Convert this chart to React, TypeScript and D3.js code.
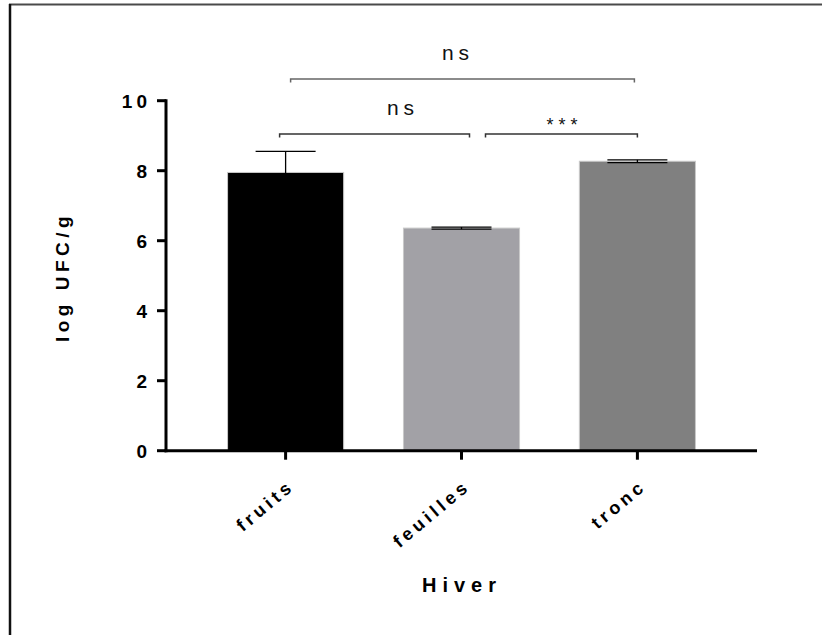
import React from "react";
import * as d3 from "d3";

// Winter counts per plant part (mean log CFU/g with SEM)
const categories: string[] = ["fruits", "feuilles", "tronc"];
const means: number[] = [7.95, 6.36, 8.27];
const sems: number[] = [0.6, 0.03, 0.04];
const barColors: string[] = ["#000000", "#a2a1a6", "#808080"];
const yTicks: number[] = [0, 2, 4, 6, 8, 10];

// Significance comparisons: [from category, to category, label, level]
const comparisons: [string, string, string, number][] = [
  ["fruits", "tronc", "ns", 0],
  ["fruits", "feuilles", "ns", 1],
  ["feuilles", "tronc", "***", 1],
];

const W = 822;
const H = 635;
const FONT = "'Liberation Sans', Arial, sans-serif";

export default function App() {
  const x = d3
    .scaleBand<string>()
    .domain(categories)
    .range([166, 757])
    .paddingInner(0.34)
    .paddingOuter(0.35);
  const y = d3.scaleLinear().domain([0, 10]).range([450.7, 100.7]);
  const cx = (c: string) => (x(c) as number) + x.bandwidth() / 2;
  const capHalf = 30;

  const bracketY = [79, 134];

  return (
    <svg
      width={W}
      height={H}
      style={{ position: "absolute", left: 0, top: 0, background: "#fff" }}
      fontFamily={FONT}
    >
      {/* frame */}
      <line x1={9} x2={W} y1={4.5} y2={4.5} stroke="#4a4a4a" strokeWidth={2} />
      <line x1={10} x2={10} y1={4} y2={H} stroke="#111" strokeWidth={2.5} />

      {/* bars */}
      {categories.map((c, i) => (
        <rect
          key={c}
          x={x(c)}
          y={y(means[i])}
          width={x.bandwidth()}
          height={y(0) - y(means[i])}
          fill={barColors[i]}
          stroke="#c9c9c9"
          strokeWidth={1}
        />
      ))}

      {/* error bars */}
      {categories.map((c, i) => {
        const hi = y(means[i] + sems[i]);
        const lo = y(means[i] - sems[i]);
        return (
          <g key={c} stroke="#000" strokeWidth={1.3}>
            <line x1={cx(c)} x2={cx(c)} y1={hi} y2={lo} />
            <line x1={cx(c) - capHalf} x2={cx(c) + capHalf} y1={hi} y2={hi} />
            <line x1={cx(c) - capHalf} x2={cx(c) + capHalf} y1={lo} y2={lo} />
          </g>
        );
      })}

      {/* y axis */}
      <line x1={166} x2={166} y1={y(10) - 1.5} y2={y(0) + 1.5} stroke="#000" strokeWidth={3} />
      {yTicks.map((t) => (
        <g key={t}>
          <line x1={157} x2={166} y1={y(t)} y2={y(t)} stroke="#000" strokeWidth={3} />
          <text
            x={151}
            y={y(t)}
            dy="0.36em"
            textAnchor="end"
            fontSize={19}
            fontWeight="bold"
            letterSpacing={4}
          >
            {t}
          </text>
        </g>
      ))}

      {/* x axis */}
      <line x1={164.5} x2={757} y1={y(0)} y2={y(0)} stroke="#000" strokeWidth={3} />
      {categories.map((c) => (
        <g key={c}>
          <line x1={cx(c)} x2={cx(c)} y1={y(0)} y2={y(0) + 9} stroke="#000" strokeWidth={3} />
          <text
            transform={`translate(${cx(c) + 10},${488}) rotate(-40)`}
            textAnchor="end"
            fontSize={18}
            fontWeight="bold"
            letterSpacing={4}
          >
            {c}
          </text>
        </g>
      ))}

      {/* axis titles */}
      <text
        transform={`translate(${69},${277}) rotate(-90)`}
        textAnchor="middle"
        fontSize={19}
        fontWeight="bold"
        letterSpacing={4.5}
      >
        log UFC/g
      </text>
      <text x={462} y={592} textAnchor="middle" fontSize={20} fontWeight="bold" letterSpacing={6}>
        Hiver
      </text>

      {/* significance brackets */}
      {comparisons.map(([a, b, label, lvl], i) => {
        const yy = bracketY[lvl];
        const x1 = cx(a) + (lvl === 0 ? 5 : -6);
        const x2 = cx(b) + (lvl === 0 ? -3 : lvl === 1 && b === "feuilles" ? 8 : 0);
        const xa = lvl === 1 && a === "feuilles" ? cx(a) + 24 : x1;
        const stroke = lvl === 0 ? "#666" : "#333";
        const isStars = label === "***";
        return (
          <g key={i}>
            <path
              d={`M${xa},${yy + 3.5}V${yy}H${x2}V${yy + 3.5}`}
              fill="none"
              stroke={stroke}
              strokeWidth={1.5}
            />
            <text
              x={isStars ? (xa + x2) / 2 + 3 : lvl === 0 ? 458 : 403}
              y={isStars ? yy - 3 : yy - 19}
              textAnchor="middle"
              fontSize={isStars ? 18 : 21}
              letterSpacing={5}
              fill="#111"
            >
              {label}
            </text>
          </g>
        );
      })}
    </svg>
  );
}
